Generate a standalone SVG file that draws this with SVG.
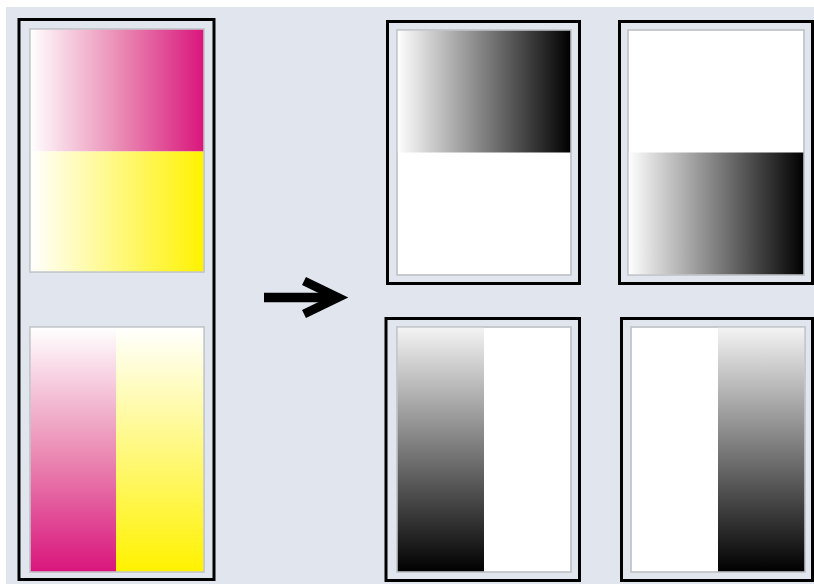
<svg xmlns="http://www.w3.org/2000/svg" width="814" height="584" viewBox="0 0 814 584">
<defs>
<linearGradient id="gMh" x1="0" y1="0" x2="1" y2="0"><stop offset="0" stop-color="#ffffff"/><stop offset="0.5" stop-color="#eb8fb6"/><stop offset="1" stop-color="#d9157c"/></linearGradient>
<linearGradient id="gYh" x1="0" y1="0" x2="1" y2="0"><stop offset="0" stop-color="#ffffff"/><stop offset="1" stop-color="#fff200"/></linearGradient>
<linearGradient id="gMv" x1="0" y1="0" x2="0" y2="1"><stop offset="0" stop-color="#ffffff"/><stop offset="0.5" stop-color="#eb8fb6"/><stop offset="1" stop-color="#d9157c"/></linearGradient>
<linearGradient id="gYv" x1="0" y1="0" x2="0" y2="1"><stop offset="0" stop-color="#ffffff"/><stop offset="1" stop-color="#fff200"/></linearGradient>
<linearGradient id="gKh" x1="0" y1="0" x2="1" y2="0"><stop offset="0" stop-color="#ffffff"/><stop offset="1" stop-color="#000000"/></linearGradient>
<linearGradient id="gKv" x1="0" y1="0" x2="0" y2="1"><stop offset="0" stop-color="#f4f4f4"/><stop offset="1" stop-color="#000000"/></linearGradient>
</defs>
<style>
.frame{fill:#e1e6ee;stroke:#000;stroke-width:3}
.img{stroke:#c3c7cc;stroke-width:1.5}
.white{fill:#ffffff}
</style>
<rect x="0" y="0" width="814" height="584" fill="#ffffff"/>
<rect x="6" y="7" width="808" height="577" fill="#e1e6ee"/>

<g id="cmyk-source">
<rect class="frame" x="19" y="19.5" width="195" height="560"/>
<rect class="img white" x="30" y="29" width="174" height="243"/>
<rect x="30" y="29" width="174" height="122.5" fill="url(#gMh)"/>
<rect x="30" y="151.5" width="174" height="120.5" fill="url(#gYh)"/>
<rect class="img" fill="none" x="30" y="29" width="174" height="243"/>
<rect class="img white" x="30" y="327" width="174" height="245"/>
<rect x="30" y="327" width="86" height="245" fill="url(#gMv)"/>
<rect x="116" y="327" width="88" height="245" fill="url(#gYv)"/>
<rect class="img" fill="none" x="30" y="327" width="174" height="245"/>
</g>

<g id="connectors">
<path d="M264 297.5 H334" stroke="#000" stroke-width="9.5" fill="none"/>
<path d="M304 281 L338 297.5 L304 314" stroke="#000" stroke-width="9" fill="none" stroke-linejoin="miter"/>
</g>

<g id="sep-magenta">
<rect class="frame" x="387.5" y="21.5" width="192" height="262"/>
<rect class="img white" x="397" y="30" width="174" height="245"/>
<rect x="397" y="30" width="174" height="122.5" fill="url(#gKh)"/>
<rect class="img" fill="none" x="397" y="30" width="174" height="245"/>
</g>

<g id="sep-yellow">
<rect class="frame" x="619.5" y="21.5" width="193" height="262"/>
<rect class="img white" x="628" y="30" width="176" height="245"/>
<rect x="628" y="152.5" width="176" height="122.5" fill="url(#gKh)"/>
<rect class="img" fill="none" x="628" y="30" width="176" height="245"/>
</g>

<g id="sep-magenta-v">
<rect class="frame" x="386" y="318.5" width="193.5" height="262"/>
<rect class="img white" x="397" y="327" width="174" height="245"/>
<rect x="397" y="327" width="87" height="245" fill="url(#gKv)"/>
<rect class="img" fill="none" x="397" y="327" width="174" height="245"/>
</g>

<g id="sep-yellow-v">
<rect class="frame" x="621.5" y="318.5" width="191" height="262"/>
<rect class="img white" x="631" y="327" width="174" height="245"/>
<rect x="718" y="327" width="87" height="245" fill="url(#gKv)"/>
<rect class="img" fill="none" x="631" y="327" width="174" height="245"/>
</g>
</svg>
